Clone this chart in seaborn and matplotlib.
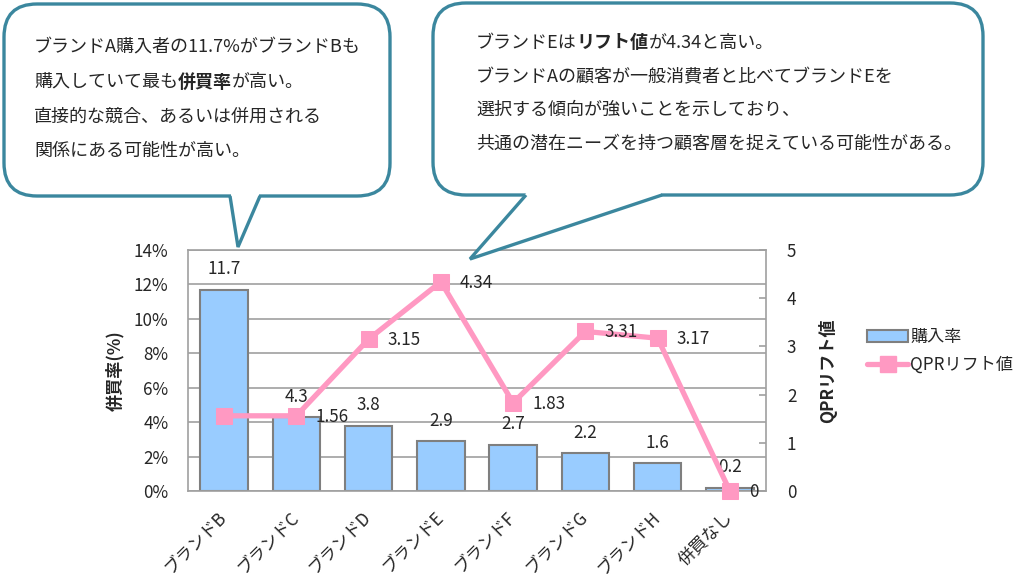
import numpy as np
import matplotlib
matplotlib.use('Agg')
import matplotlib.pyplot as plt
import seaborn as sns
from matplotlib.patches import FancyBboxPatch, Polygon, Patch
from matplotlib.lines import Line2D

categories = ['ブランドB', 'ブランドC', 'ブランドD', 'ブランドE', 'ブランドF', 'ブランドG', 'ブランドH', '併買なし']
rates = [11.7, 4.3, 3.8, 2.9, 2.7, 2.2, 1.6, 0.2]
lift = [1.56, 1.56, 3.15, 4.34, 1.83, 3.31, 3.17, 0]
lift_labels = ['', '1.56', '3.15', '4.34', '1.83', '3.31', '3.17', '0']
pct_ticks = [0, 2, 4, 6, 8, 10, 12, 14]
lift_ticks = [0, 1, 2, 3, 4, 5]

left_note = [
    [('ブランドA購入者の11.7%がブランドBも', False)],
    [('購入していて最も', False), ('併買率', True), ('が高い。', False)],
    [('直接的な競合、あるいは併用される', False)],
    [('関係にある可能性が高い。', False)],
]
right_note = [
    [('ブランドEは', False), ('リフト値', True), ('が4.34と高い。', False)],
    [('ブランドAの顧客が一般消費者と比べてブランドEを', False)],
    [('選択する傾向が強いことを示しており、', False)],
    [('共通の潜在ニーズを持つ顧客層を捉えている可能性がある。', False)],
]

sns.set_style('white')
plt.rcParams['font.family'] = ['Noto Sans CJK JP', 'DejaVu Sans']

bar_color = '#99CCFF'
bar_edge = '#7F7F7F'
line_color = '#FF99C2'
grid_color = '#A0A0A0'
bubble_color = '#3B879E'
fs = 12.3

fig = plt.figure(figsize=(10.24, 5.88), dpi=100)
W, H = 1024, 588
ax = fig.add_axes([188 / W, 1 - 491 / H, 578 / W, 241 / H])

sns.barplot(x=categories, y=rates, ax=ax, color=bar_color, saturation=1,
            edgecolor=bar_edge, linewidth=1.5, width=0.66, zorder=2)
ax.set_xlim(-0.5, len(categories) - 0.5)
ax.set_ylim(0, 14)
ax.set_yticks(pct_ticks)
ax.set_yticklabels([f'{t}%' for t in pct_ticks], fontsize=fs)
ax.yaxis.grid(True, color=grid_color, lw=1.2)
ax.set_axisbelow(True)
for sp in ax.spines.values():
    sp.set_color(grid_color)
    sp.set_linewidth(1.2)
ax.tick_params(axis='y', length=0, pad=14)
ax.tick_params(axis='x', which='major', length=0, pad=17)
ax.set_xticks(np.arange(len(categories) + 1) - 0.5, minor=True)
ax.tick_params(axis='x', which='minor', direction='in', length=5, color=grid_color, width=1.2)
ax.set_xticklabels(categories, rotation=45, ha='right', va='center',
                   rotation_mode='anchor', fontsize=fs)
ax.set_xlabel('')
ax.set_ylabel('併買率(%)', fontsize=fs, fontweight='bold')
ax.yaxis.set_label_coords(-0.11, 0.5)
ax.bar_label(ax.containers[0], labels=[str(r) for r in rates], padding=8, fontsize=fs)

ax2 = ax.twinx()
sns.lineplot(x=np.arange(len(categories)), y=lift, ax=ax2, color=line_color, lw=3.8,
             marker='s', markersize=12, markeredgecolor=line_color, clip_on=False, zorder=3)
ax2.set_ylim(0, 5)
ax2.set_xlim(-0.5, len(categories) - 0.5)
ax2.set_yticks(lift_ticks)
ax2.set_yticklabels([str(t) for t in lift_ticks], fontsize=fs)
ax2.tick_params(axis='y', direction='in', length=5, color=grid_color, width=1.2, pad=15)
for sp in ax2.spines.values():
    sp.set_visible(False)
ax2.set_ylabel('QPRリフト値', fontsize=fs, fontweight='bold')
ax2.yaxis.set_label_coords(1.09, 0.5)
for i, (v, lab) in enumerate(zip(lift, lift_labels)):
    if lab:
        ax2.annotate(lab, (i, v), xytext=(19, -1), textcoords='offset pixels',
                     ha='left', va='center', fontsize=fs, annotation_clip=False)

handles = [Patch(facecolor=bar_color, edgecolor=bar_edge, linewidth=1.5),
           Line2D([], [], color=line_color, lw=3.8, marker='s', markersize=12)]
fig.legend(handles, ['購入率', 'QPRリフト値'], loc='upper left',
           bbox_to_anchor=(852 / W, 1 - 313 / H), frameon=False, fontsize=fs,
           handlelength=2.4, handletextpad=0.1, labelspacing=0.55)

# speech bubbles drawn on a pixel-coordinate overlay
ov = fig.add_axes([0, 0, 1, 1])
ov.set_xlim(0, W)
ov.set_ylim(H, 0)
ov.axis('off')


def bubble(x0, y0, x1, y1, base_l, tip, base_r):
    box = FancyBboxPatch((x0, y0), x1 - x0, y1 - y0,
                         boxstyle='round,pad=0,rounding_size=33',
                         facecolor='white', edgecolor=bubble_color, lw=2.4)
    ov.add_patch(box)
    ov.add_patch(Polygon([(base_l[0] + 1, y1 - 3), tip, (base_r[0] - 1, y1 - 3)],
                         closed=True, facecolor='white', edgecolor='none'))
    ov.add_patch(Polygon([(base_l[0] + 1, y1 + 3), (base_r[0] - 1, y1 + 3),
                          (base_r[0] - 1, y1 - 3), (base_l[0] + 1, y1 - 3)],
                         closed=True, facecolor='white', edgecolor='none'))
    ov.plot([base_l[0], tip[0], base_r[0]], [y1, tip[1], y1], color=bubble_color,
            lw=2.4, solid_joinstyle='miter', solid_capstyle='butt')


def rich_lines(x, ys, lines, size):
    renderer = fig.canvas.get_renderer()
    for y, parts in zip(ys, lines):
        cx = x
        for s, bold in parts:
            t = ov.text(cx, y, s, fontsize=size, fontweight='bold' if bold else 'normal',
                        ha='left', va='center')
            bb = t.get_window_extent(renderer)
            cx = ov.transData.inverted().transform((bb.x1, bb.y0))[0]


bubble(4, 4, 390, 196, (230, 196), (238, 247), (260, 196))
bubble(433, 3, 983, 195, (526, 195), (470, 259), (662, 195))
rich_lines(34, [47, 82, 117, 151], left_note, 13)
rich_lines(476, [43, 77, 110, 144], right_note, 13)

fig.savefig('out.png', dpi=100)
